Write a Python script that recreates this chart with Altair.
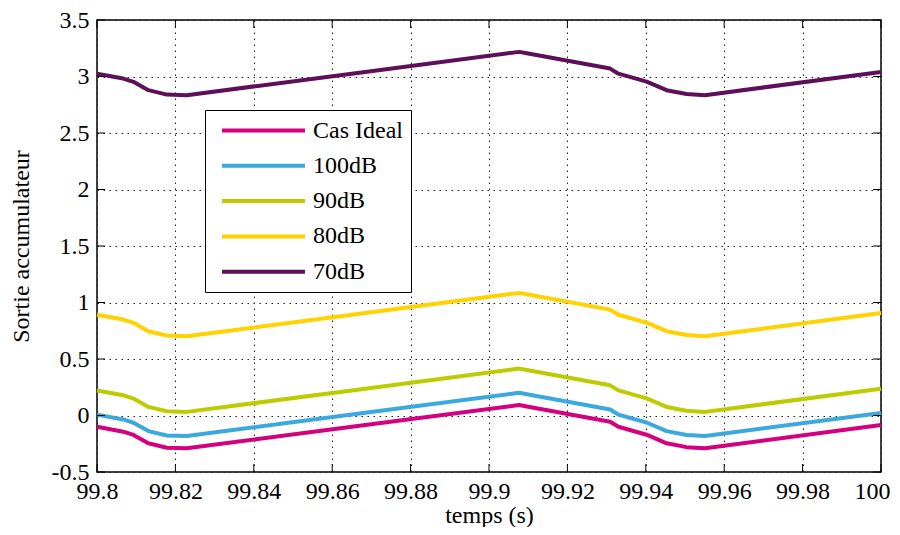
import altair as alt
import pandas as pd

# time breakpoints (s)
t = [99.8, 99.8067, 99.8093, 99.8131, 99.8178, 99.8229, 99.8650, 99.9077, 99.9100,
     99.9309, 99.9330, 99.9402, 99.9453, 99.9504, 99.9551, 100.0]

cas_ideal = [-0.100, -0.143, -0.172, -0.246, -0.285, -0.290, -0.100, 0.093, 0.078,
             -0.055, -0.100, -0.170, -0.246, -0.280, -0.290, -0.085]
db100 = [0.008, -0.035, -0.064, -0.138, -0.177, -0.182, 0.008, 0.201, 0.186,
         0.053, 0.008, -0.062, -0.138, -0.172, -0.182, 0.023]
db90 = [0.222, 0.179, 0.150, 0.076, 0.037, 0.032, 0.222, 0.415, 0.400,
        0.267, 0.222, 0.152, 0.076, 0.042, 0.032, 0.237]
db80 = [0.892, 0.849, 0.820, 0.746, 0.707, 0.702, 0.892, 1.085, 1.070,
        0.937, 0.892, 0.822, 0.746, 0.712, 0.702, 0.907]
db70 = [3.025, 2.982, 2.953, 2.879, 2.840, 2.835, 3.025, 3.218, 3.203,
        3.070, 3.025, 2.955, 2.879, 2.845, 2.835, 3.040]

series_names = ["Cas Ideal", "100dB", "90dB", "80dB", "70dB"]
series_values = [cas_ideal, db100, db90, db80, db70]
series_colors = ["#D4007D", "#3BA9DD", "#BDCC00", "#FFD200", "#5E0F5A"]

x_ticks = [99.8, 99.82, 99.84, 99.86, 99.88, 99.9, 99.92, 99.94, 99.96, 99.98, 100.0]
y_ticks = [-0.5, 0, 0.5, 1, 1.5, 2, 2.5, 3, 3.5]

rows = []
for name, vals in zip(series_names, series_values):
    for i, (tt, v) in enumerate(zip(t, vals)):
        rows.append({"t": tt, "y": v, "serie": name, "order": i})
df = pd.DataFrame(rows)

W, H = 784, 452
FONT = "Liberation Serif"
FS = 24

xscale = alt.Scale(domain=[99.8, 100.0], nice=False, zero=False)
yscale = alt.Scale(domain=[-0.5, 3.5], nice=False, zero=False)

axis_common = dict(
    grid=True, gridDash=[1.5, 4.5], gridColor="#222", gridWidth=1, gridOpacity=1,
    ticks=False, domain=False, labelFlush=False,
    labelFont=FONT, labelFontSize=FS, labelColor="black",
    titleFont=FONT, titleFontSize=FS, titleFontWeight="normal", titleColor="black",
)
xaxis = alt.Axis(values=x_ticks, title="temps (s)",
                 labelExpr="format(datum.value, '~g')",
                 labelOffset={"condition": {"test": "datum.value >= 100", "value": -9},
                              "value": 0},
                 labelPadding=7, titlePadding=0, **axis_common)
yaxis = alt.Axis(values=y_ticks, title="Sortie accumulateur",
                 labelExpr="replace(format(datum.value, '~g'), '\u2212', '-')",
                 labelPadding=8, titlePadding=18, **axis_common)

lines = alt.Chart(df).mark_line(strokeWidth=4, strokeJoin="round").encode(
    x=alt.X("t:Q", scale=xscale, axis=xaxis),
    y=alt.Y("y:Q", scale=yscale, axis=yaxis),
    color=alt.Color("serie:N", sort=series_names,
                    scale=alt.Scale(domain=series_names, range=series_colors),
                    legend=alt.Legend(orient="none", legendX=108, legendY=90,
                                      title=None, symbolType="M-4,0H4",
                                      symbolStrokeWidth=4, symbolSize=430,
                                      symbolOffset=38,
                                      labelFont=FONT, labelFontSize=FS,
                                      labelColor="black", labelOffset=37,
                                      strokeColor="black", fillColor="white",
                                      padding=8, rowPadding=10.3, offset=0)),
    order="order:Q",
)

xt = pd.DataFrame({"v": x_ticks})
yt = pd.DataFrame({"v": y_ticks})

tick_style = dict(color="black", strokeWidth=1)
bx = alt.Chart(xt).mark_rule(**tick_style).encode(
    x=alt.X("v:Q", scale=xscale, axis=xaxis), y=alt.value(H), y2=alt.value(H - 8))
tx = alt.Chart(xt).mark_rule(**tick_style).encode(
    x=alt.X("v:Q", scale=xscale, axis=xaxis), y=alt.value(0), y2=alt.value(8))
ly = alt.Chart(yt).mark_rule(**tick_style).encode(
    y=alt.Y("v:Q", scale=yscale, axis=yaxis), x=alt.value(0), x2=alt.value(8))
ry = alt.Chart(yt).mark_rule(**tick_style).encode(
    y=alt.Y("v:Q", scale=yscale, axis=yaxis), x=alt.value(W), x2=alt.value(W - 8))

chart = alt.layer(lines, bx, tx, ly, ry).properties(
    width=W, height=H,
    background="white",
    autosize=alt.AutoSizeParams(type="none"),
    padding={"left": 89, "top": 12, "right": 11, "bottom": 55},
).configure_view(stroke="black", strokeWidth=1.5)

chart.save("out.html", embed_options={"renderer": "svg", "actions": False})
